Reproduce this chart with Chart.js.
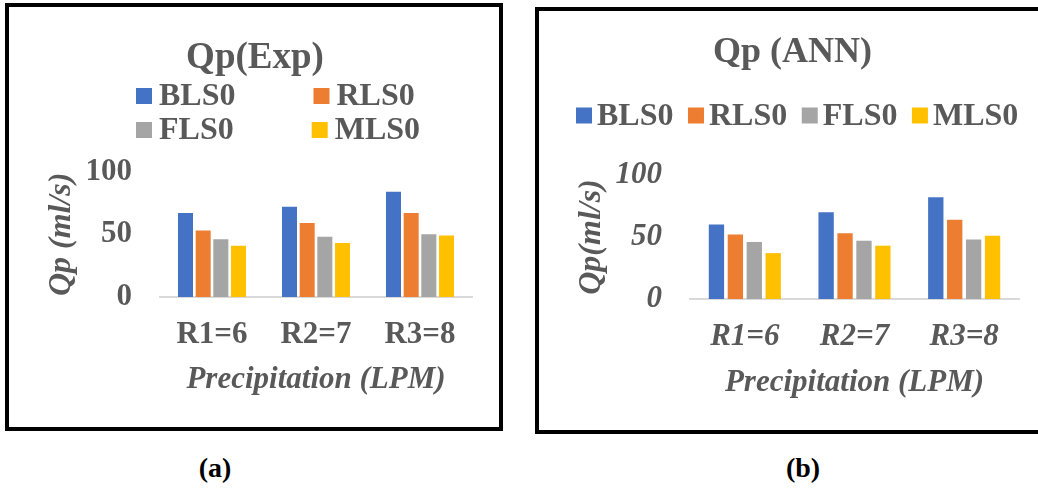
<!DOCTYPE html>
<html>
<head>
<meta charset="utf-8">
<title>Qp charts</title>
<script src="https://cdn.jsdelivr.net/npm/chart.js@4.4.1/dist/chart.umd.min.js"></script>
<style>
  body { margin: 0; background: #fff; width: 1038px; height: 488px; overflow: hidden; position: relative; }
  .panel { position: absolute; border: 4px solid #000; }
  #panelA { left: 5px; top: 3px; width: 490px; height: 420px; }
  #panelB { left: 535px; top: 7px; width: 507px; height: 419px; }
  .cap { position: absolute; top: 452px; width: 80px; text-align: center; font: bold 28px "Liberation Serif", serif; color: #000; }
</style>
</head>
<body>
<div class="panel" id="panelA"><canvas id="chartA"></canvas></div>
<div class="panel" id="panelB"><canvas id="chartB"></canvas></div>
<div class="cap" style="left:175px">(a)</div>
<div class="cap" style="left:763px">(b)</div>
<script>
const categories = ['R1=6', 'R2=7', 'R3=8'];
const seriesNames = ['BLS0', 'RLS0', 'FLS0', 'MLS0'];
const seriesColors = ['#4472C4', '#ED7D31', '#A5A5A5', '#FFC000'];
const yTicks = [0, 50, 100];

// Qp(Exp)
const expBLS0 = [67, 72, 84];
const expRLS0 = [53, 59, 67];
const expFLS0 = [46, 48, 50];
const expMLS0 = [41, 43, 49];

// Qp (ANN)
const annBLS0 = [60, 70, 82];
const annRLS0 = [52, 53, 64];
const annFLS0 = [46, 47, 48];
const annMLS0 = [37, 43, 51];

const FONT = '"Liberation Serif", "Times New Roman", serif';
const GREY = '#595959';

// legend drawn in rows: box, small gap, text, bigger gap
const rowLegend = {
  id: 'rowLegend',
  afterDraw(chart, args, opts) {
    const ctx = chart.ctx;
    ctx.save();
    ctx.font = 'bold 32px ' + FONT;
    ctx.textBaseline = 'middle';
    let x = opts.x;
    chart.data.datasets.forEach((ds, i) => {
      const row = Math.floor(i / opts.perRow);
      if (i % opts.perRow === 0) x = opts.x;
      const y = opts.rows[row];
      ctx.fillStyle = ds.backgroundColor;
      ctx.fillRect(x, y - 8, 16, 16);
      ctx.fillStyle = GREY;
      ctx.fillText(ds.label, x + 16 + opts.boxGap, y + 1);
      x += 16 + opts.boxGap + ctx.measureText(ds.label).width + opts.itemGap;
    });
    ctx.restore();
  }
};

const makeChart = (id, cfg) => {
  const tickStyle = cfg.italicTicks ? 'italic' : 'normal';
  return new Chart(document.getElementById(id), {
    type: 'bar',
    data: {
      labels: categories,
      datasets: cfg.values.map((vals, i) => ({
        label: seriesNames[i],
        data: vals,
        backgroundColor: seriesColors[i],
        borderWidth: 0,
        categoryPercentage: cfg.catPct,
        barPercentage: cfg.barPct
      }))
    },
    options: {
      responsive: true,
      maintainAspectRatio: false,
      animation: false,
      layout: { padding: { left: cfg.padLeft, right: 27 } },
      plugins: {
        legend: { display: false },
        tooltip: { enabled: false },
        title: {
          display: true,
          text: cfg.title,
          color: GREY,
          font: { family: FONT, size: cfg.titleSize, weight: 'bold' },
          padding: { top: cfg.titleTop, bottom: cfg.titleBottom }
        },
        rowLegend: cfg.legend
      },
      scales: {
        x: {
          grid: { display: false, drawTicks: false },
          border: { display: true, color: '#D9D9D9', width: 2 },
          ticks: {
            color: GREY,
            padding: 19.4,
            font: { family: FONT, size: 31, weight: 'bold', style: tickStyle }
          },
          title: {
            display: true,
            text: 'Precipitation (LPM)',
            color: GREY,
            font: { family: FONT, size: 31, weight: 'bold', style: 'italic' },
            padding: { top: 0, bottom: 28.4 }
          },
          afterFit: (scale) => { scale.height = cfg.xHeight; }
        },
        y: {
          min: 0,
          max: 100,
          grid: { display: false, drawTicks: false },
          border: { display: false },
          afterBuildTicks: (scale) => { scale.ticks = yTicks.map(v => ({ value: v })); },
          ticks: {
            color: GREY,
            padding: 28,
            font: { family: FONT, size: 31, weight: 'bold', style: tickStyle }
          },
          title: {
            display: true,
            text: cfg.yTitle,
            color: GREY,
            font: { family: FONT, size: 32, weight: 'bold', style: 'italic' },
            padding: { top: 34 - cfg.padLeft, bottom: 0 }
          },
          afterFit: (scale) => { scale.width = 151 - cfg.padLeft; }
        }
      }
    },
    plugins: [rowLegend]
  });
};

makeChart('chartA', {
  title: 'Qp(Exp)',
  titleSize: 37,
  titleTop: 28.8,
  titleBottom: 91.5,
  yTitle: 'Qp (ml/s)',
  italicTicks: false,
  values: [expBLS0, expRLS0, expFLS0, expMLS0],
  catPct: 0.68,
  barPct: 0.85,
  xHeight: 130,
  padLeft: 29,
  legend: { x: 127, rows: [89, 123], perRow: 2, boxGap: 7, itemGap: 78 }
});

makeChart('chartB', {
  title: 'Qp (ANN)',
  titleSize: 36,
  titleTop: 20.4,
  titleBottom: 100.4,
  yTitle: 'Qp(ml/s)',
  italicTicks: true,
  values: [annBLS0, annRLS0, annFLS0, annMLS0],
  catPct: 0.69,
  barPct: 0.81,
  xHeight: 131,
  padLeft: 27,
  legend: { x: 37, rows: [104.5], perRow: 4, boxGap: 5, itemGap: 14.5 }
});
</script>
</body>
</html>
